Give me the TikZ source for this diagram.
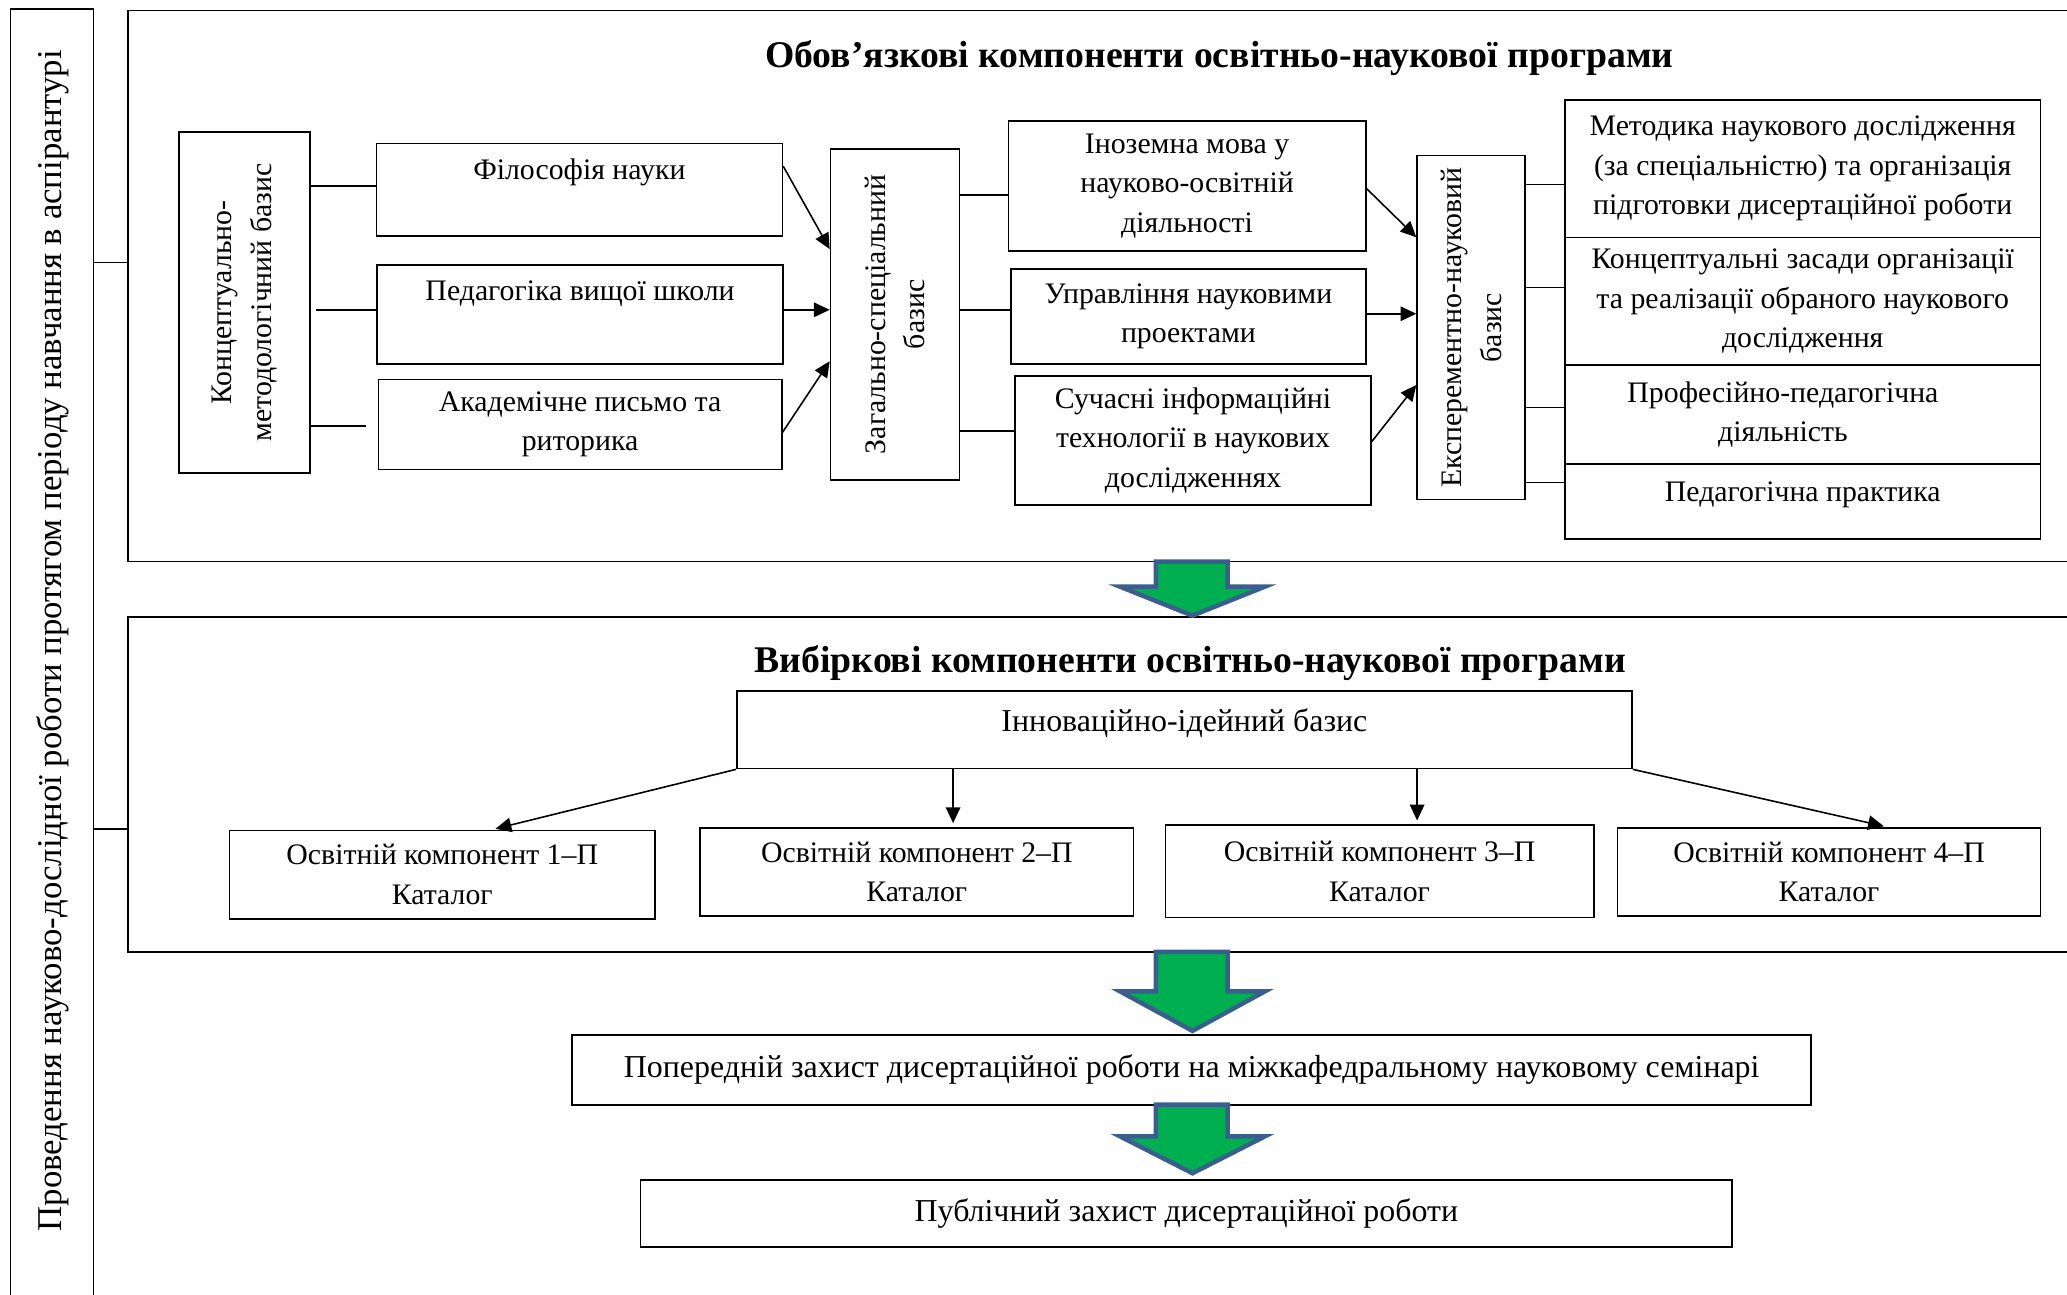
\documentclass[tikz,border=0pt]{standalone}
\usepackage{fontspec}
\setmainfont{Liberation Serif}
\usetikzlibrary{arrows.meta,calc}
\definecolor{arrowgreen}{HTML}{00B050}
\definecolor{arrowblue}{HTML}{3A5F8F}
\newcommand{\boxfont}{\fontsize{11.3}{15}\selectfont}
\newcommand{\bigboxfont}{\fontsize{12.1}{15}\selectfont}

\begin{document}
\begin{tikzpicture}[x=1pt,y=-1pt,
    box/.style={draw,line width=0.6pt,align=center,font=\boxfont,inner sep=0pt},
    vbox/.style={box,rotate=90},
    link/.style={line width=0.6pt},
    arr/.style={link,-{Triangle[length=6pt,width=5.5pt]}},
    bigarrow/.style={draw=arrowblue,fill=arrowgreen,line width=1.7pt},
    heading/.style={font=\fontsize{14.3}{16}\selectfont\bfseries}]
\useasboundingbox (0,0) rectangle (784,491);

% left column and the two frames
\draw[link] (4,491) |- (35.5,3.5) -- (35.5,491);
\node[rotate=90,font=\fontsize{13.2}{14}\selectfont] (lside) at (20,243)
    {Проведення науково-дослідної роботи протягом періоду навчання в аспірантурі};
\draw[link] (784,4) -| (48.5,213) -- (784,213);
\draw[link] (784,234) -| (48.5,361) -- (784,361);
\coordinate (ob) at (48.5,99.5);
\coordinate (vb) at (48.5,314.5);
\draw[link] (ob -| 35.5,0) -- (ob);
\draw[link] (vb -| 35.5,0) -- (vb);

% obligatory part
\node[heading] (oblT) at (462.5,22) {Обов’язкові компоненти освітньо-наукової програми};
\node[vbox,minimum width=129.5pt,minimum height=49.5pt] (konc) at (92.75,114.75)
    {Концептуально-\\методологічний базис};
\node[box,minimum width=154pt,minimum height=35pt,text depth=16pt] (fil) at (219.75,72) {Філософія науки};
\node[box,minimum width=154pt,minimum height=37.5pt,text depth=18pt] (ped) at (220,119.25) {Педагогіка вищої школи};
\node[box,minimum width=153pt,minimum height=34pt] (akad) at (220,161) {Академічне письмо та\\риторика};
\node[vbox,minimum width=125.5pt,minimum height=49pt] (zag) at (339.5,119.25)
    {Загально-спеціальний\\базис};
\node[box,minimum width=135.5pt,minimum height=49.25pt] (inoz) at (450.25,70.5)
    {Іноземна мова у\\науково-освітній\\діяльності};
\node[box,minimum width=134.5pt,minimum height=36pt] (upr) at (450.75,120)
    {Управління науковими\\проектами};
\node[box,minimum width=135pt,minimum height=49pt] (such) at (452.5,167)
    {Сучасні інформаційні\\технології в наукових\\дослідженнях};
\node[vbox,minimum width=130.5pt,minimum height=41pt] (eksp) at (558,124.25)
    {Експерементно-науковий\\базис};
\node[box,minimum width=180.5pt,minimum height=52pt] (met) at (683.75,64)
    {Методика наукового дослідження\\(за спеціальністю) та організація\\підготовки дисертаційної роботи};
\node[box,minimum width=180.5pt,minimum height=48.5pt] (kon) at (683.75,114.25)
    {Концептуальні засади організації\\та реалізації обраного наукового\\дослідження};
\node[box,minimum width=180.5pt,minimum height=37.5pt] (prof) at (683.75,157.25)
    {Професійно-педагогічна\hspace*{15pt}\\діяльність\hspace*{15pt}};
\node[box,minimum width=180.5pt,minimum height=28.5pt,text depth=7.5pt] (prak) at (683.75,190.25)
    {Педагогічна практика};

\draw[link] (konc.south |- 0,70.5) -- (fil.west |- 0,70.5);
\draw[link,shorten <=2pt] (konc.south |- 0,117.5) -- (ped.west |- 0,117.5);
\draw[link,shorten >=4.5pt] (konc.south |- 0,161.5) -- (akad.west |- 0,161.5);
\draw[arr] (fil.east |- 0,63) -- (zag.north |- 0,94.5);
\draw[arr] (ped.east |- 0,117.5) -- (zag.north |- 0,117.5);
\draw[arr] (akad.east |- 0,164) -- (zag.north |- 0,137);
\draw[link] (zag.south |- 0,74) -- (inoz.west |- 0,74);
\draw[link] (zag.south |- 0,117.5) -- (upr.west |- 0,117.5);
\draw[link] (zag.south |- 0,163.5) -- (such.west |- 0,163.5);
\draw[arr] (inoz.east |- 0,71.5) -- (eksp.north |- 0,90);
\draw[arr] (upr.east |- 0,119) -- (eksp.north |- 0,119);
\draw[arr] (such.east |- 0,167.5) -- (eksp.north |- 0,146);
\foreach \n/\y in {met/70,kon/109,prof/154.5,prak/183}
    \draw[link] (eksp.south |- 0,\y) -- (\n.west |- 0,\y);

% elective part
\node[heading] (vybT) at (451.5,251.5) {Вибіркові компоненти освітньо-наукової програми};
\node[box,font=\bigboxfont,minimum width=339.5pt,minimum height=29.5pt,text depth=7pt] (innov) at (449.25,276.75)
    {Інноваційно-ідейний базис};
\node[box,minimum width=161.5pt,minimum height=33.5pt] (osv1) at (167.75,331.75) {Освітній компонент 1–П\\Каталог};
\node[box,minimum width=164.5pt,minimum height=33.5pt] (osv2) at (347.75,330.75) {Освітній компонент 2–П\\Каталог};
\node[box,minimum width=162.5pt,minimum height=35pt] (osv3) at (523.25,330.5) {Освітній компонент 3–П\\Каталог};
\node[box,minimum width=160.5pt,minimum height=33.5pt] (osv4) at (693.75,330.75) {Освітній компонент 4–П\\Каталог};
\draw[arr,shorten >=1.5pt] (innov.south west) -- (osv1.north -| 186.5,0);
\draw[arr,shorten >=1.5pt] (innov.south -| 361.5,0) -- (osv2.north -| 361.5,0);
\draw[arr,shorten >=1.5pt] (innov.south -| 537.5,0) -- (osv3.north -| 537.5,0);
\draw[arr,shorten >=1.5pt] (innov.south east) -- (osv4.north -| 716,0);

% defence
\node[box,font=\bigboxfont,minimum width=470pt,minimum height=26.5pt] (pop) at (452,405.75)
    {Попередній захист дисертаційної роботи на міжкафедральному науковому семінарі};
\node[box,font=\bigboxfont,minimum width=414pt,minimum height=25.5pt] (pub) at (450,460.25)
    {Публічний захист дисертаційної роботи};

\foreach \ya/\yb/\yc in {213/222.5/233.5,361/376/391,419/431/445}
    \draw[bigarrow] (438.4,\ya) -- (438.4,\yb) -- (424.8,\yb) -- (452.3,\yc)
        -- (479.8,\yb) -- (465.6,\yb) -- (465.6,\ya) -- cycle;
\end{tikzpicture}
\end{document}
